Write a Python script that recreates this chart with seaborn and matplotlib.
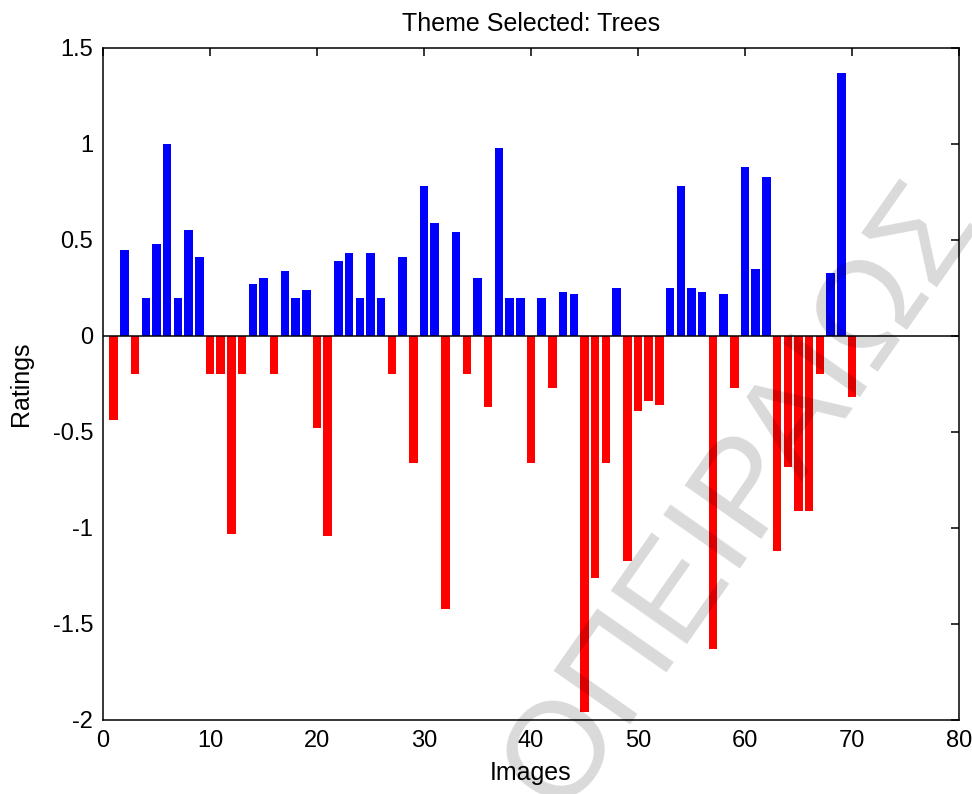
import matplotlib
matplotlib.use("Agg")
import matplotlib.pyplot as plt
import seaborn as sns
import pandas as pd

# ---- data -------------------------------------------------------------
images = list(range(1, 71))
ratings = [
    -0.44, 0.45, -0.20, 0.20, 0.48, 1.00, 0.20, 0.55, 0.41, -0.20,
    -0.20, -1.03, -0.20, 0.27, 0.30, -0.20, 0.34, 0.20, 0.24, -0.48,
    -1.04, 0.39, 0.43, 0.20, 0.43, 0.20, -0.20, 0.41, -0.66, 0.78,
    0.59, -1.42, 0.54, -0.20, 0.30, -0.37, 0.98, 0.20, 0.20, -0.66,
    0.20, -0.27, 0.23, 0.22, -1.96, -1.26, -0.66, 0.25, -1.17, -0.39,
    -0.34, -0.36, 0.25, 0.78, 0.25, 0.23, -1.63, 0.22, -0.27, 0.88,
    0.35, 0.83, -1.12, -0.68, -0.91, -0.91, -0.20, 0.33, 1.37, -0.32,
]
title = "Theme Selected: Trees"
xlabel = "Images"
ylabel = "Ratings"
xticks = [0, 10, 20, 30, 40, 50, 60, 70, 80]
yticks = [-2, -1.5, -1, -0.5, 0, 0.5, 1, 1.5]
ytick_labels = ["-2", "-1.5", "-1", "-0.5", "0", "0.5", "1", "1.5"]
watermark = "ΟΠΕΙΡΑΙΩΣ"

df = pd.DataFrame({"image": images, "rating": ratings})
df["sign"] = ["pos" if r > 0 else "neg" for r in df["rating"]]

# ---- style ------------------------------------------------------------
sns.set_style("white")
plt.rcParams["font.family"] = ["Liberation Sans", "DejaVu Sans"]
plt.rcParams["axes.linewidth"] = 1.1

fig = plt.figure(figsize=(9.72, 7.94), dpi=100)
ax = fig.add_axes([103 / 972, 74 / 794, 856 / 972, 672 / 794])

sns.barplot(
    data=df, x="image", y="rating", hue="sign",
    palette={"pos": "#0000ff", "neg": "#ff0000"}, saturation=1,
    native_scale=True, width=0.8, dodge=False, legend=False,
    linewidth=0, ax=ax, zorder=2,
)
ax.axhline(0, color="black", lw=1.1, zorder=3)

ax.set_xlim(0, 80)
ax.set_ylim(-2, 1.5)
ax.set_xticks(xticks)
ax.set_xticklabels([str(t) for t in xticks])
ax.set_yticks(yticks)
ax.set_yticklabels(ytick_labels)
for s in ax.spines.values():
    s.set_color("black")
    s.set_visible(True)
ax.tick_params(direction="in", length=6, width=1.1, top=True, right=True,
               labelsize=17, colors="black", pad=7)
ax.set_title(title, fontsize=18, pad=12, color="black")
ax.set_xlabel(xlabel, fontsize=18, labelpad=7, color="black")
ax.set_ylabel(ylabel, fontsize=18, labelpad=14, color="black")

fig.text(562 / 972, -20 / 794, watermark, fontsize=98,
         family=["Liberation Sans", "DejaVu Sans"], rotation=55,
         rotation_mode="anchor", ha="left", va="baseline",
         color="black", alpha=0.15, zorder=10)

fig.savefig("out.png", dpi=100)
